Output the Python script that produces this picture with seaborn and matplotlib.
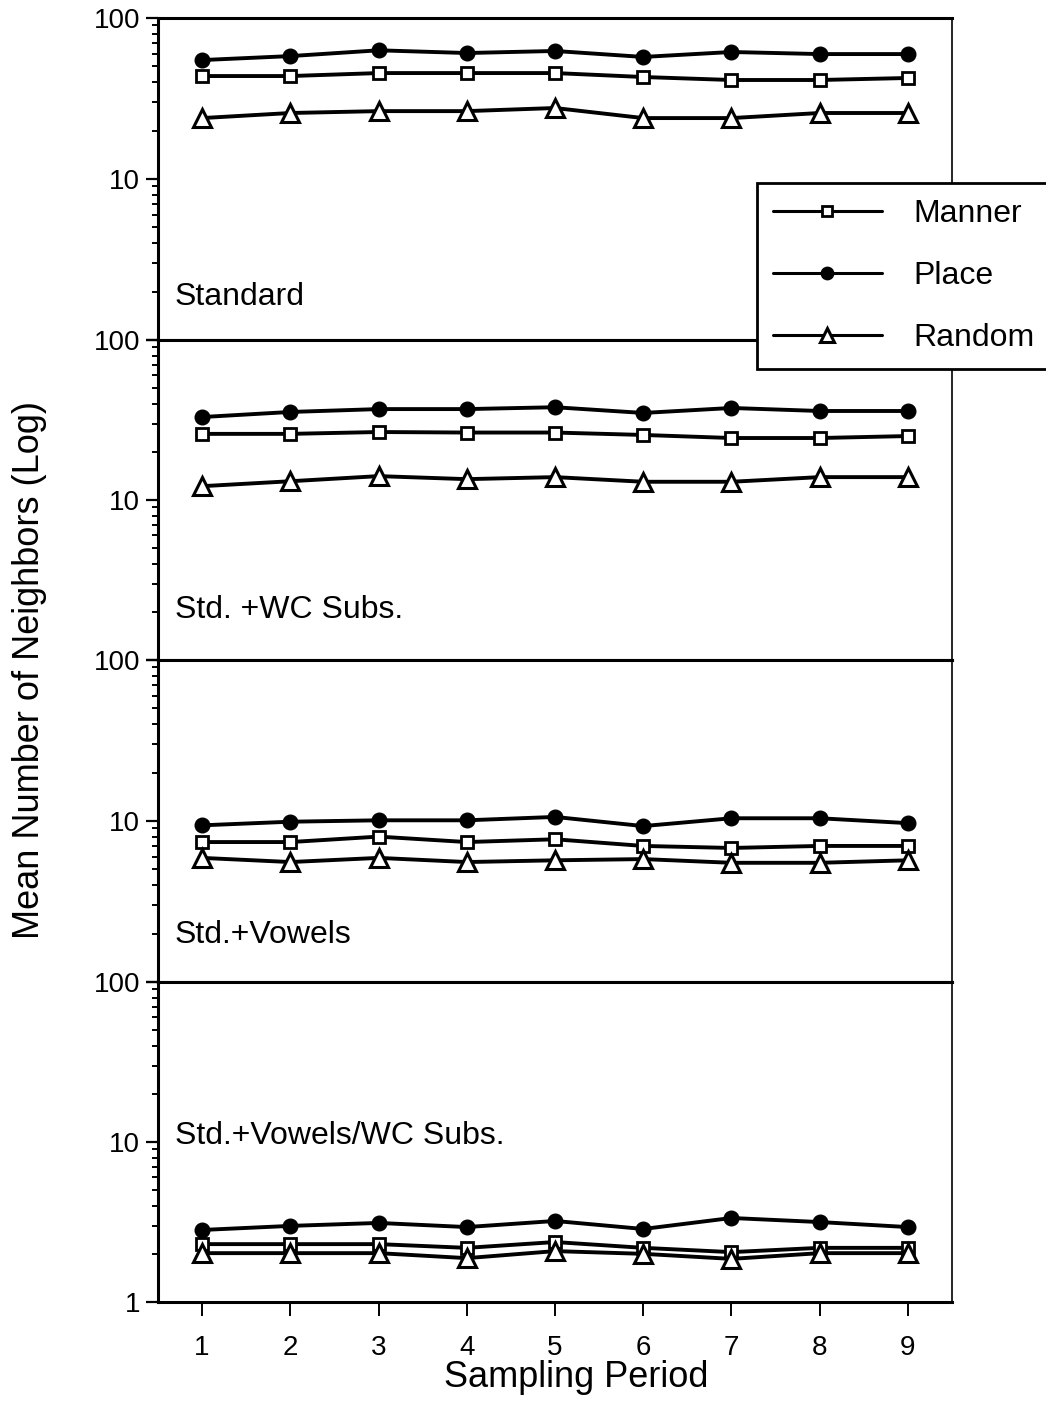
import matplotlib
matplotlib.use("Agg")
import matplotlib.pyplot as plt
from matplotlib.ticker import FixedLocator, FixedFormatter, LogLocator, NullFormatter
from matplotlib.lines import Line2D
import seaborn as sns
import pandas as pd

sns.set_style("ticks")
plt.rcParams['font.family'] = ['Liberation Sans', 'DejaVu Sans']
plt.rcParams['text.color'] = 'black'
plt.rcParams['axes.labelcolor'] = 'black'
plt.rcParams['xtick.color'] = 'black'
plt.rcParams['ytick.color'] = 'black'

periods = [1, 2, 3, 4, 5, 6, 7, 8, 9]
panel_names = ["Standard", "Std. +WC Subs.", "Std.+Vowels", "Std.+Vowels/WC Subs."]

manner = [
    [43.6, 43.6, 45.5, 45.5, 45.5, 43.0, 41.2, 41.2, 42.4],
    [25.9, 25.9, 26.6, 26.4, 26.4, 25.5, 24.4, 24.4, 25.1],
    [7.4, 7.4, 8.0, 7.4, 7.7, 7.0, 6.8, 7.0, 7.0],
    [2.30, 2.30, 2.30, 2.18, 2.37, 2.18, 2.05, 2.18, 2.18],
]
place = [
    [54.8, 58.0, 63.0, 60.6, 62.4, 57.3, 61.5, 59.7, 59.7],
    [33.0, 35.5, 37.0, 37.0, 38.0, 35.0, 37.6, 36.0, 36.0],
    [9.4, 9.9, 10.1, 10.1, 10.6, 9.3, 10.4, 10.4, 9.7],
    [2.82, 2.99, 3.12, 2.94, 3.21, 2.86, 3.35, 3.16, 2.94],
]
random_ = [
    [23.9, 25.7, 26.4, 26.4, 27.6, 23.9, 23.9, 25.7, 25.7],
    [12.2, 13.1, 14.1, 13.5, 13.9, 13.0, 13.0, 13.9, 13.9],
    [5.9, 5.56, 5.9, 5.56, 5.7, 5.8, 5.5, 5.5, 5.7],
    [2.02, 2.02, 2.02, 1.88, 2.08, 2.0, 1.86, 2.02, 2.02],
]
series_names = ["Manner", "Place", "Random"]
y_ticks = [1, 10, 100]
x_label = "Sampling Period"
y_label = "Mean Number of Neighbors (Log)"

styles = {
    "Manner": dict(marker="s", markersize=9, markerfacecolor="white", markeredgecolor="black", markeredgewidth=2.0),
    "Place": dict(marker="o", markersize=10.5, markerfacecolor="black", markeredgecolor="black", markeredgewidth=1.0),
    "Random": dict(marker="^", markersize=12.5, markerfacecolor="white", markeredgecolor="black", markeredgewidth=2.2),
}

W, H = 1046, 1403
fig = plt.figure(figsize=(W / 100, H / 100), dpi=100)
left, right = 158 / W, 952 / W
tops = [18, 340, 660, 982]
bottoms = [340, 660, 982, 1302]

axes = []
for i in range(4):
    ax = fig.add_axes([left, 1 - bottoms[i] / H, right - left, (bottoms[i] - tops[i]) / H])
    axes.append(ax)
    data = {"Manner": manner[i], "Place": place[i], "Random": random_[i]}
    for name in series_names:
        df = pd.DataFrame({"x": periods, "y": data[name]})
        sns.lineplot(data=df, x="x", y="y", ax=ax, color="black", linewidth=2.8,
                     zorder=3, clip_on=False, **styles[name])
    ax.set_yscale("log")
    ax.set_ylim(1, 100)
    ax.set_xlim(0.5, 9.5)
    ax.set_xlabel("")
    ax.set_ylabel("")
    ax.yaxis.set_major_locator(FixedLocator(y_ticks))
    labels = ["1" if i == 3 else "", "10", "100"]
    ax.yaxis.set_major_formatter(FixedFormatter(labels))
    ax.yaxis.set_minor_locator(LogLocator(base=10, subs=[2, 3, 4, 5, 6, 7, 8, 9]))
    ax.yaxis.set_minor_formatter(NullFormatter())
    ax.set_xticks(periods)
    if i < 3:
        ax.set_xticklabels([])
    else:
        ax.set_xticklabels([str(p) for p in periods])
    ax.tick_params(axis="y", which="major", direction="out", length=9, width=1.6,
                   labelsize=20, pad=4, colors="black")
    ax.tick_params(axis="y", which="minor", direction="out", length=4, width=1.4, colors="black")
    ax.tick_params(axis="x", which="major", direction="out", length=10, width=1.4,
                   labelsize=20, pad=14, colors="black")
    ax.tick_params(axis="x", which="minor", bottom=False)
    for s in ["top", "bottom", "left"]:
        ax.spines[s].set_linewidth(2.2)
        ax.spines[s].set_color("black")
    ax.spines["right"].set_linewidth(1.2)
    ax.spines["right"].set_color("black")
    ax.set_facecolor("white")

label_pos = [0.132, 0.156, 0.146, 0.52]
for ax, name, yp in zip(axes, panel_names, label_pos):
    ax.text(0.021, yp, name, transform=ax.transAxes, fontsize=23,
            ha="left", va="center", color="black")

axes[3].set_xlabel(x_label, fontsize=26, labelpad=0, color="black")
axes[3].xaxis.set_label_coords((576 - 158) / (952 - 158), -0.18)
fig.text(30 / W, 1 - 670 / H, y_label, rotation=90, fontsize=26,
         ha="center", va="center", color="black")

handles = [Line2D([0], [0], color="black", linewidth=2.2, **dict(styles[n], markersize=styles[n]["markersize"] * 0.85))
           for n in series_names]
leg = fig.legend(handles, series_names, loc="upper left",
                 bbox_to_anchor=(757 / W, 1 - 183 / H), fontsize=23,
                 frameon=True, fancybox=False, edgecolor="black", framealpha=1,
                 handlelength=3.4, handletextpad=1.0, labelspacing=1.0,
                 borderpad=0.5, borderaxespad=0)
leg.get_frame().set_linewidth(2.0)
for t in leg.get_texts():
    t.set_color("black")

fig.savefig("out.png", dpi=100, facecolor="white")
